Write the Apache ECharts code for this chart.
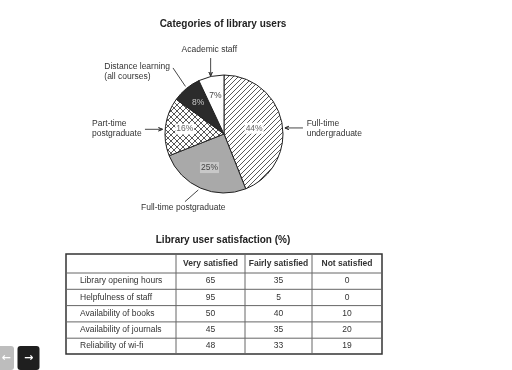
<!DOCTYPE html>
<html>
<head>
<meta charset="utf-8">
<script src="https://cdn.jsdelivr.net/npm/echarts@6/dist/echarts.min.js"></script>
<style>
  html, body { margin: 0; padding: 0; background: #fff; }
  #chart { width: 512px; height: 370px; }
</style>
</head>
<body>
<div id="chart"></div>
<script>
// pie: categories of library users (clockwise from 12 o'clock)
const userCategories = [
  'Full-time\nundergraduate',
  'Full-time postgraduate',
  'Part-time\npostgraduate',
  'Distance learning\n(all courses)',
  'Academic staff'
];
const userShares = [44, 25, 16, 8, 7];

// table: library user satisfaction (%)
const satisfactionItems = [
  'Library opening hours',
  'Helpfulness of staff',
  'Availability of books',
  'Availability of journals',
  'Reliability of wi-fi'
];
const satisfactionLevels = ['Very satisfied', 'Fairly satisfied', 'Not satisfied'];
const verySatisfied = [65, 95, 50, 45, 48];
const fairlySatisfied = [35, 5, 40, 35, 33];
const notSatisfied = [0, 0, 10, 20, 19];

const FONT = '"Liberation Sans", Arial, sans-serif';
const TEXT = '#333';
const PIE_CENTER = [224, 134];
const PIE_R = 59;

function makePattern(size, draw) {
  const c = document.createElement('canvas');
  c.width = size;
  c.height = size;
  const ctx = c.getContext('2d');
  ctx.fillStyle = '#fff';
  ctx.fillRect(0, 0, size, size);
  ctx.strokeStyle = '#444';
  ctx.lineWidth = 0.9;
  draw(ctx, size);
  return { image: c, repeat: 'repeat' };
}

const hatch = makePattern(5, (ctx, s) => {
  ctx.beginPath();
  ctx.moveTo(0, s); ctx.lineTo(s, 0);
  ctx.moveTo(-1, 1); ctx.lineTo(1, -1);
  ctx.moveTo(s - 1, s + 1); ctx.lineTo(s + 1, s - 1);
  ctx.stroke();
});
const crossHatch = makePattern(6, (ctx, s) => {
  ctx.beginPath();
  ctx.moveTo(0, s); ctx.lineTo(s, 0);
  ctx.moveTo(0, 0); ctx.lineTo(s, s);
  ctx.stroke();
});

const sliceFills = [hatch, '#a9a9a9', crossHatch, '#2b2b2b', '#fff'];
const innerLabelStyles = [
  { color: '#666', backgroundColor: '#fff', padding: [1, 1] },
  { color: '#444', backgroundColor: '#c8c8c8', padding: [1, 1] },
  { color: '#666', backgroundColor: '#fff', padding: [1, 1] },
  { color: '#c8c8c8' },
  { color: '#444' }
];
const innerLabelRadius = [0.52, 0.62, 0.67, 0.69, 0.66];

// leader lines: offsets from the slice's mid-angle edge point
const outerPlacement = [
  { tip: [3, 5], tail: [18, 0], label: [3.7, 0.3], side: 'left', arrow: true },
  { tip: [-2.3, 1.8], tail: [-13.3, 11.7], label: [-1.7, 6.3], side: 'center', arrow: false },
  { tip: [-3, 2.7], tail: [-17.5, 0], label: [-3.3, -0.6], side: 'right', arrow: true },
  { tip: [-0.9, -2.1], tail: [-12.5, -18.5], label: [-3, 3.7], side: 'right', arrow: false },
  { tip: [-0.5, -0.4], tail: [0, -18], label: [-1.3, -8], side: 'center', arrow: true }
];

const shareTotal = userShares.reduce((a, b) => a + b, 0);
function sliceDir(i) {
  let before = 0;
  for (let k = 0; k < i; k++) before += userShares[k];
  const a = (before + userShares[i] / 2) / shareTotal * Math.PI * 2;
  return [Math.sin(a), -Math.cos(a)];
}

function innerLayout(p) {
  const d = sliceDir(p.dataIndex);
  const rr = PIE_R * innerLabelRadius[p.dataIndex];
  return {
    x: PIE_CENTER[0] + d[0] * rr,
    y: PIE_CENTER[1] + d[1] * rr,
    align: 'center',
    verticalAlign: 'middle'
  };
}

function outerLayout(p) {
  const i = p.dataIndex;
  const pl = outerPlacement[i];
  const d = sliceDir(i);
  const ax = PIE_CENTER[0] + d[0] * PIE_R;
  const ay = PIE_CENTER[1] + d[1] * PIE_R;
  const tip = [ax + pl.tip[0], ay + pl.tip[1]];
  const tail = [tip[0] + pl.tail[0], tip[1] + pl.tail[1]];
  let points = [tail, tip];
  if (pl.arrow) {
    const len = Math.hypot(tip[0] - tail[0], tip[1] - tail[1]) || 1;
    const ux = (tip[0] - tail[0]) / len;
    const uy = (tip[1] - tail[1]) / len;
    const b1 = [tip[0] - ux * 4 - uy * 1.7, tip[1] - uy * 4 + ux * 1.7];
    const b2 = [tip[0] - ux * 4 + uy * 1.7, tip[1] - uy * 4 - ux * 1.7];
    points = [tail, tip, b1, tip, b2, tip];
  }
  let x = tail[0] + pl.label[0];
  let align = 'left';
  if (pl.side === 'right') {
    x -= p.labelRect.width;
  } else if (pl.side === 'center') {
    align = 'center';
  }
  return {
    x: x,
    y: tail[1] + pl.label[1],
    align: align,
    verticalAlign: 'middle',
    labelLinePoints: points
  };
}

// table geometry (axis units)
const colEdges = [0, 110, 179, 246, 316];
const rowEdges = [0, 19, 35.3, 51.6, 67.9, 84.2, 100];

const tableCells = [];
['', ...satisfactionLevels].forEach((t, c) => {
  tableCells.push({ col: c, row: 0, text: t, kind: 'head' });
});
satisfactionItems.forEach((item, r) => {
  tableCells.push({ col: 0, row: r + 1, text: item, kind: 'item' });
  [verySatisfied, fairlySatisfied, notSatisfied].forEach((arr, k) => {
    tableCells.push({ col: k + 1, row: r + 1, text: String(arr[r]), kind: 'value' });
  });
});

function renderCell(params, api) {
  const cell = tableCells[params.dataIndex];
  const p0 = api.coord([colEdges[cell.col], rowEdges[cell.row]]);
  const p1 = api.coord([colEdges[cell.col + 1], rowEdges[cell.row + 1]]);
  const line = { stroke: '#666', lineWidth: 1 };
  const children = [];
  if (cell.col < colEdges.length - 2) {
    children.push({ type: 'line', shape: { x1: p1[0], y1: p0[1], x2: p1[0], y2: p1[1] }, style: line });
  }
  if (cell.row < rowEdges.length - 2) {
    children.push({ type: 'line', shape: { x1: p0[0], y1: p1[1], x2: p1[0], y2: p1[1] }, style: line });
  }
  const leftAligned = cell.kind === 'item';
  children.push({
    type: 'text',
    x: leftAligned ? p0[0] + 14 : (p0[0] + p1[0]) / 2,
    y: (p0[1] + p1[1]) / 2,
    style: {
      text: cell.text,
      fill: TEXT,
      font: (cell.kind === 'head' ? 'bold ' : '') + '8.5px ' + FONT,
      align: leftAligned ? 'left' : 'center',
      verticalAlign: 'middle'
    }
  });
  return { type: 'group', children: children };
}

const chart = echarts.init(document.getElementById('chart'));

chart.setOption({
  animation: false,
  backgroundColor: '#fff',
  title: [
    {
      text: 'Categories of library users',
      left: 223, top: 19, textAlign: 'center', padding: 0,
      textStyle: { fontSize: 10, fontWeight: 'bold', fontFamily: FONT, color: '#222' }
    },
    {
      text: 'Library user satisfaction (%)',
      left: 223, top: 235, textAlign: 'center', padding: 0,
      textStyle: { fontSize: 10, fontWeight: 'bold', fontFamily: FONT, color: '#222' }
    }
  ],
  grid: {
    left: 66, top: 254, width: 316, height: 100,
    show: true, borderColor: '#333', borderWidth: 1.5, backgroundColor: 'transparent'
  },
  xAxis: { type: 'value', min: 0, max: colEdges[colEdges.length - 1], show: false },
  yAxis: { type: 'value', min: 0, max: rowEdges[rowEdges.length - 1], inverse: true, show: false },
  series: [
    {
      type: 'pie',
      center: PIE_CENTER,
      radius: PIE_R,
      startAngle: 90,
      clockwise: true,
      silent: true,
      avoidLabelOverlap: false,
      itemStyle: { borderColor: '#222', borderWidth: 1 },
      label: {
        show: true, position: 'inside', formatter: '{c}%',
        fontSize: 8.5, fontFamily: FONT
      },
      labelLine: { show: false },
      labelLayout: innerLayout,
      data: userCategories.map((name, i) => ({
        name: name,
        value: userShares[i],
        itemStyle: { color: sliceFills[i] },
        label: innerLabelStyles[i]
      }))
    },
    {
      type: 'pie',
      center: PIE_CENTER,
      radius: PIE_R,
      startAngle: 90,
      clockwise: true,
      silent: true,
      avoidLabelOverlap: false,
      itemStyle: { color: 'rgba(0,0,0,0)', borderWidth: 0 },
      label: {
        show: true, position: 'outside', formatter: '{b}',
        fontSize: 8.5, lineHeight: 10, fontFamily: FONT, color: TEXT
      },
      labelLine: {
        show: true, length: 15, length2: 0,
        lineStyle: { color: '#333', width: 0.9, join: 'round' }
      },
      labelLayout: outerLayout,
      data: userCategories.map((name, i) => ({ name: name, value: userShares[i] }))
    },
    {
      type: 'custom',
      silent: true,
      clip: false,
      renderItem: renderCell,
      encode: { x: 0, y: 1 },
      data: tableCells.map(c => [colEdges[c.col], rowEdges[c.row]])
    }
  ],
  graphic: [
    { type: 'rect', shape: { x: -8, y: 346, width: 22, height: 24, r: 3 }, style: { fill: '#bdbdbd' } },
    { type: 'text', x: 6, y: 358, style: { text: '←', fill: '#fff', font: 'bold 11px "DejaVu Sans"', align: 'center', verticalAlign: 'middle' } },
    { type: 'rect', shape: { x: 17.5, y: 346, width: 22, height: 24, r: 3 }, style: { fill: '#1f1f1f' } },
    { type: 'text', x: 28.5, y: 358, style: { text: '→', fill: '#fff', font: 'bold 11px "DejaVu Sans"', align: 'center', verticalAlign: 'middle' } }
  ]
});
</script>
</body>
</html>
